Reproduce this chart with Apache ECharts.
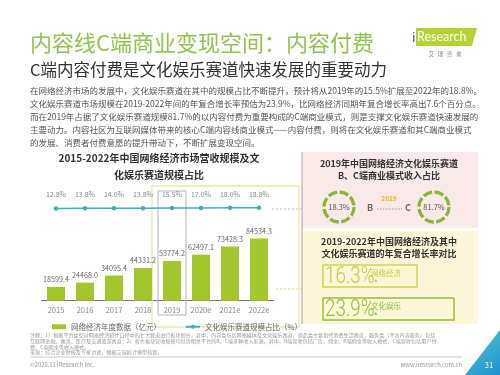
<!DOCTYPE html>
<html>
<head>
<meta charset="utf-8">
<script src="https://cdn.jsdelivr.net/npm/echarts@6/dist/echarts.min.js"></script>
<style>
html, body { margin: 0; padding: 0; background: #fff; }
#main { width: 500px; height: 375px; }
</style>
</head>
<body>
<div id="main"></div>
<script>
// 2015-2022 网络经济营收规模(亿元) 及 文化娱乐赛道占比(%)
var years = ['2015', '2016', '2017', '2018', '2019', '2020e', '2021e', '2022e'];
var revenue = [18599.4, 24468.0, 34095.4, 44331.2, 53774.2, 62497.1, 73428.3, 84534.3];
var share = [12.8, 13.8, 14.0, 13.8, 15.5, 17.0, 18.0, 18.8];

// 2019 B/C 端收入占比
var bcNames = ['B', 'C'];
var bcShare = [18.3, 81.7];

// 2019-2022 年复合增长率
var cagrNames = ['网络经济', '文化娱乐'];
var cagr = [16.3, 23.9];

var paragraph = [
  '在网络经济市场的发展中，文化娱乐赛道在其中的规模占比不断提升，预计将从2019年的15.5%扩展至2022年的18.8%。',
  '文化娱乐赛道市场规模在2019-2022年间的年复合增长率预估为23.9%，比网络经济同期年复合增长率高出7.6个百分点。',
  '而在2019年占据了文化娱乐赛道规模81.7%的以内容付费为重要构成的C端商业模式，则是支撑文化娱乐赛道快速发展的',
  '主要动力。内容社区为互联网媒体带来的核心C端内容线商业模式——内容付费，则将在文化娱乐赛道和其C端商业模式',
  '的发展、消费者付费意愿的提升带动下，不断扩展变现空间。'
];

var notes = [
  '注释：1）根据平台类型对网络经济统计口径中的七大赛道进行板块划分，其中，内容类包括网络媒体及文化娱乐赛道，商品类主要指代消费生活赛道，服务类（不含内容服务）包括',
  '互联网金融、教育、医疗及交通旅游赛道；2）各大板块营收规模均包含相关平台的B、C端多种收入来源，其中，B端营收包括广告、佣金、B端佣金等收入模式，C端营收包括用户付',
  '费、C端佣金等收入模式。',
  '来源：综合企业财报及专家访谈，根据艾瑞统计模型核算。'
];

var chart = echarts.init(document.getElementById('main'));

var FONT = '"Noto Sans CJK SC", "Noto Sans", sans-serif';
var BAR = '#a2c62c';
var LINE = '#3aafc2';

function txt(x, y, s, size, color, o) {
  o = o || {};
  var al = o.align || 'left';
  return {
    type: 'text', x: x, y: y, z: o.z || 10,
    scaleX: o.scaleX || 1,
    style: {
      text: s, fill: color, fontSize: size, fontFamily: o.family || FONT,
      fontWeight: o.weight || 'normal',
      textAlign: al, align: al,
      textVerticalAlign: 'middle', verticalAlign: 'middle'
    }
  };
}

var g = [];

// header
g.push(txt(30, 43, '内容线C端商业变现空间：内容付费', 22, '#92c450'));
g.push(txt(30, 70, 'C端内容付费是文化娱乐赛道快速发展的重要动力', 16.5, '#333'));

// logo
g.push({ type: 'polygon', z: 5, shape: { points: [[416, 28], [477, 28], [472, 46], [416, 46]] }, style: { fill: '#b4d234' } });
g.push(txt(412, 37, 'i', 13, '#1f5fa8'));
g.push(txt(417, 37, 'Research', 12.5, '#fff', { family: 'Lato, sans-serif' }));
g.push(txt(445, 54, '艾   瑞   咨   询', 5.5, '#888', { align: 'center' }));

// paragraph
paragraph.forEach(function (s, i) {
  g.push(txt(30, 91 + i * 12.9, s, 8.5, '#555'));
});

// chart title
g.push(txt(159, 158, '2015-2022年中国网络经济市场营收规模及文', 10, '#333', { align: 'center', weight: 'bold' }));
g.push(txt(159, 175, '化娱乐赛道规模占比', 10, '#333', { align: 'center', weight: 'bold' }));

// highlight frames on chart
g.push({ type: 'rect', z: 1, shape: { x: 152, y: 186, width: 147, height: 141 }, style: { fill: 'none', stroke: '#ebe9a6', lineWidth: 1.3 } });
g.push({ type: 'rect', z: 1, shape: { x: 158, y: 191, width: 28, height: 124 }, style: { fill: 'none', stroke: '#b5b5b5', lineWidth: 1 } });
g.push({ type: 'line', z: 1, shape: { x1: 272, y1: 209, x2: 302, y2: 209 }, style: { stroke: '#bbb', lineDash: [2, 2], lineWidth: 1 } });
g.push({ type: 'line', z: 1, shape: { x1: 276, y1: 289, x2: 302, y2: 289 }, style: { stroke: '#dcdc80', lineDash: [2, 2], lineWidth: 1 } });

// right panels
g.push({ type: 'rect', z: 0, shape: { x: 302, y: 152, width: 176, height: 76 }, style: { fill: '#f9e9e9' } });
g.push({ type: 'rect', z: 0, shape: { x: 302, y: 231, width: 176, height: 93 }, style: { fill: '#fdf6d8' } });
g.push({ type: 'line', z: 2, shape: { x1: 302, y1: 152, x2: 302, y2: 324 }, style: { stroke: '#c4bcc4', lineWidth: 1.5 } });

g.push(txt(389, 164, '2019年中国网络经济文化娱乐赛道', 9, '#333', { align: 'center', weight: 'bold' }));
g.push(txt(389, 176, 'B、C端商业模式收入占比', 9, '#333', { align: 'center', weight: 'bold' }));

var ringX = [339, 434];
bcShare.forEach(function (v, i) {
  g.push({ type: 'circle', z: 5, shape: { cx: ringX[i], cy: 207, r: 15 }, style: { fill: 'none', stroke: '#8ab73a', lineWidth: 3.3, lineDash: [9.3, 2.5] } });
  g.push(txt(ringX[i], 207, v.toFixed(1) + '%', 7.5, '#555', { align: 'center' }));
});
g.push(txt(370, 208, bcNames[0], 9, '#666', { align: 'center', weight: 'bold' }));
g.push(txt(408, 208, bcNames[1], 9, '#666', { align: 'center', weight: 'bold' }));
g.push(txt(389, 199, '2019', 6.5, '#f2b705', { align: 'center', weight: 'bold' }));
g.push({ type: 'line', z: 5, shape: { x1: 377, y1: 209, x2: 402, y2: 209 }, style: { stroke: '#999', lineDash: [1.5, 1.5], lineWidth: 1 } });

g.push(txt(389, 242, '2019-2022年中国网络经济及其中', 9, '#333', { align: 'center', weight: 'bold' }));
g.push(txt(389, 254, '文化娱乐赛道的年复合增长率对比', 9, '#333', { align: 'center', weight: 'bold' }));

var boxY = [265, 298], boxW = [94, 131];
var boxStroke = ['#cdd84c', '#93bf3a'], boxText = ['#bfd040', '#8dbf3a'];
cagr.forEach(function (v, i) {
  g.push({ type: 'rect', z: 5, shape: { x: 323, y: boxY[i], width: boxW[i], height: 22 }, style: { fill: 'none', stroke: boxStroke[i], lineWidth: 1.5 } });
  g.push(txt(325, boxY[i] + 11.5, v.toFixed(1) + '%', 24, boxText[i], { scaleX: 0.78, family: 'Roboto, sans-serif', weight: 300 }));
  g.push(txt(371, boxY[i] + 8, cagrNames[i], 7.5, boxText[i]));
  g.push(txt(374, boxY[i] + 16, '▲', 3.5, boxText[i]));
});

// notes & footer
notes.forEach(function (s, i) {
  g.push(txt(30, 335.5 + i * 5.6, s, 5.1, '#999'));
});
g.push({ type: 'line', shape: { x1: 30, y1: 357, x2: 462, y2: 357 }, style: { stroke: '#bbb', lineWidth: 0.8 } });
g.push(txt(30, 365, '©2020.11 iResearch Inc.', 5.8, '#999'));
g.push(txt(462, 365, 'www.iresearch.com.cn', 5.8, '#999', { align: 'right' }));
g.push({
  type: 'polygon', shape: { points: [[500, 330], [500, 375], [465, 375]] },
  style: { fill: new echarts.graphic.LinearGradient(0, 0, 1, 1, [{ offset: 0, color: '#a8d038' }, { offset: 0.45, color: '#3fb0c8' }, { offset: 1, color: '#1d8fd6' }]) }
});
g.push(txt(489, 365, '31', 7.5, '#fff', { align: 'center' }));

var option = {
  animation: false,
  graphic: g,
  legend: {
    left: 47, top: 318, itemWidth: 14, itemHeight: 5, itemGap: 24,
    textStyle: { fontSize: 7.5, color: '#666', fontFamily: FONT },
    data: [{ name: '网络经济年度数据（亿元）', icon: 'rect' }, { name: '文化娱乐赛道规模占比（%）' }]
  },
  grid: [
    { left: 41.5, width: 232, top: 227, height: 73.7 },
    { left: 41.5, width: 232, top: 207.5, height: 2.5 }
  ],
  xAxis: [
    {
      type: 'category', data: years, gridIndex: 0,
      axisLine: { lineStyle: { color: '#777', width: 1 } },
      axisTick: { show: false },
      axisLabel: { fontSize: 7.5, color: '#888', margin: 6, fontFamily: FONT }
    },
    { type: 'category', data: years, gridIndex: 1, show: false }
  ],
  yAxis: [
    { type: 'value', gridIndex: 0, min: 0, max: 100000, show: false, splitLine: { show: false } },
    { type: 'value', gridIndex: 1, min: 0, max: 20, show: false, splitLine: { show: false } }
  ],
  series: [
    {
      name: '网络经济年度数据（亿元）', type: 'bar', data: revenue, barWidth: 18,
      xAxisIndex: 0, yAxisIndex: 0,
      itemStyle: { color: BAR },
      label: {
        show: true, position: 'top', distance: 4, fontSize: 7.2, color: '#666', fontFamily: FONT,
        formatter: function (p) { return p.value.toFixed(1); }
      }
    },
    {
      name: '文化娱乐赛道规模占比（%）', type: 'line', data: share,
      xAxisIndex: 1, yAxisIndex: 1,
      symbol: 'circle', symbolSize: 4.5,
      lineStyle: { color: LINE, width: 1.5 },
      itemStyle: { color: LINE },
      label: {
        show: true, position: 'top', distance: 8, fontSize: 7, color: '#888', fontFamily: FONT,
        formatter: function (p) { return p.value.toFixed(1) + '%'; }
      }
    }
  ]
};
chart.setOption(option);
</script>
</body>
</html>
